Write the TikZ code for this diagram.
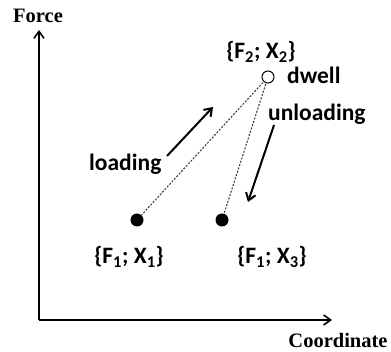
\documentclass[tikz,border=0pt]{standalone}
\usepackage{fontspec}
\setmainfont{Carlito}
\newfontfamily\axisfont{Liberation Serif}
\usetikzlibrary{arrows.meta}
\tikzset{
  axis/.style={line width=1.6pt, -{Straight Barb[length=7pt,width=10pt,line width=1.6pt]}},
  axlabel/.style={font=\axisfont\bfseries\fontsize{20.5}{22}\selectfont, inner sep=0pt},
  lbl/.style={font=\bfseries\fontsize{23.5}{26}\selectfont, inner sep=0pt},
  bdot/.style={circle, fill=black, minimum size=13pt, inner sep=0pt},
  odot/.style={circle, draw=black, fill=white, line width=1pt, minimum size=12pt, inner sep=0pt},
  dashline/.style={line width=1pt, draw=black!80, dash pattern=on 2pt off 1.5pt, shorten <=1pt},
  motion/.style={line width=2pt, -{Straight Barb[length=7pt,width=10pt,line width=2pt]}}
}
\begin{document}
\begin{tikzpicture}[x=1pt,y=-1pt]
\useasboundingbox (0,0) rectangle (391,352);
\fill[white] (0,0) rectangle (391,352);
% axes
\coordinate (O) at (39,320);
\coordinate (ytip) at (39,30);
\coordinate (xtip) at (332,320);
\draw[axis] (O) -- (ytip);
\draw[axis] (O) -- (xtip);
\node[axlabel] (force) at (38,16) {Force};
\node[axlabel] (coord) at (338,340) {Coordinate};
% points
\node[odot] (p2) at (268,77) {};
\node[bdot] (p1) at (137,220) {};
\node[bdot] (p3) at (222,220) {};
\draw[dashline] (p2) -- (p1);
\draw[dashline] (p2) -- (p3);
% labels
\node[lbl] (l2) at (261,52) {\{F\textsubscript{2}; X\textsubscript{2}\}};
\node[lbl] (l1) at (129,257) {\{F\textsubscript{1}; X\textsubscript{1}\}};
\node[lbl] (l3) at (272,257) {\{F\textsubscript{1}; X\textsubscript{3}\}};
\node[lbl, anchor=base west] (dwell) at (287,84) {dwell};
\node[lbl, anchor=base west] (unl) at (268,121) {unloading};
\node[lbl, anchor=base west] (load) at (89,171) {loading};
% motion arrows
\coordinate (la1) at (167,156);
\coordinate (la2) at (213,107);
\coordinate (ua1) at (274,125);
\coordinate (ua2) at (248,202);
\draw[motion] (la1) -- (la2);
\draw[motion] (ua1) -- (ua2);
\end{tikzpicture}
\end{document}
